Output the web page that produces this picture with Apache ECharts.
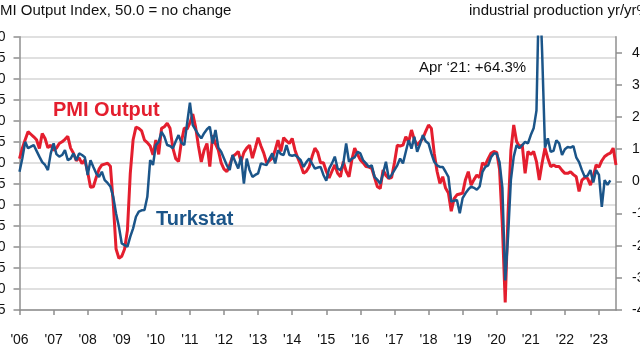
<!DOCTYPE html>
<html><head><meta charset="utf-8">
<script src="https://cdn.jsdelivr.net/npm/echarts@6/dist/echarts.min.js"></script>
<style>html,body{margin:0;padding:0;background:#fff}#c{width:640px;height:360px}</style>
</head><body><div id="c"></div>
<script>
const startYear = 2006;
const yearTickLabels = ["'06","'07","'08","'09","'10","'11","'12","'13","'14","'15","'16","'17","'18","'19","'20","'21","'22","'23"];
const rightTickValues = [-40,-30,-20,-10,0,10,20,30,40];

// PMI Output Index (sa, 50 = no change), monthly from Jan 2006
const pmiOutput = [
 51,53.5,55.5,57.4,56.8,56.2,55.5,53.4,57,55.8,53.6,54.2,
 53,53.5,54.6,55,55.6,56.3,53.5,52.3,50.5,51.2,49.8,50.7,
 47.8,44.2,44.3,46.5,48.5,49.5,49.7,49.9,49.2,40.5,29.5,27.3,
 27.8,29.5,34,47.5,55.5,58.5,58.2,57.6,55.4,54.8,54,51.9,
 55.4,52,58.2,58.6,59.4,58.2,53.5,51,50.3,55,58.3,58,
 59.5,61.6,58.5,54,50.2,53,54.6,49.1,56.6,54.5,53,50,
 48.5,47.9,49.5,51.5,52,52.7,50.3,52.5,53.5,54.2,51.1,53.5,
 56,54,52.3,50,50.5,51.1,53,55.4,52.7,56,55.2,54.6,
 55.8,53,51.1,49.5,47.5,48,49.1,51.5,53.5,52.5,50,50,
 48,46.4,48,49.5,47.5,46.7,50.3,48,46.7,50.7,53.5,52,
 50.7,50,49.1,49,48.7,46.5,44.3,43.9,48.3,47,46.3,46.5,
 50,54.2,54,54.2,56.2,55,57.8,55.5,54.2,55,55.8,57.5,
 59,58.2,52.3,48,45.1,46.7,44,42.8,38.5,41.5,42.4,42.6,
 42.8,46,47.9,44.7,46,47.1,46.5,50,49.5,51,52.3,52.7,
 52.5,48.5,35,16.8,38,53,59,55.1,53.9,54.2,47.5,52.7,
 52,52.7,50.3,45.9,50,53.5,51.1,49.1,49.5,49.1,49.1,48.2,
 47.5,47.5,47.9,47.2,46.7,43.2,45.9,46.5,46.3,44.7,46.7,49.5,
 49,50.5,51.5,52,52.3,53.5,49.5
];

// Turkstat industrial production, yr/yr %, monthly from Jan 2006
const turkstatIP = [
 3,7.2,12.3,10.3,10.8,11.3,9.5,7.7,6,5.1,3.5,8.7,
 11.8,8.5,7.7,8.2,9.7,6.6,7.1,8.7,6.6,8.7,8.2,7.5,
 2,6.6,4.5,2.5,1.4,3,0.4,-0.5,-1.6,-4.8,-10,-14.1,
 -19.3,-19.8,-20.3,-17.2,-14.6,-11,-9.4,-9,-8.9,-4.8,6.6,5.1,
 11.3,12.3,15.4,13.9,11.3,11,10.3,12.5,14.4,12,11.3,18,
 24.5,17.5,16,14.5,13.4,15,16.2,17,11.8,16,10.5,9.2,
 7.1,5,3.5,8.2,6,4,7.7,-0.7,7.1,3.5,1.4,2,
 2.5,5.6,5.3,5.1,7.1,8.7,5.6,9.7,8.5,8.2,11.3,8.2,
 8,8.2,7.5,6.6,4.5,6,7.1,5.5,4,4.3,4.5,2,
 0.2,4,5.6,7.7,4,3.5,5.6,11.8,6.1,7.1,7.5,9.2,
 8.7,6.5,5.6,4.5,5,1.4,0.5,-0.7,2.5,6.1,0.9,2,
 3.5,5,7.1,5.6,9.2,12.8,10.2,13.9,9.2,11.5,14.4,12.5,
 11.8,8.7,6.1,5,4.5,4.5,3,1.4,-6.3,-6,-5.8,-9.9,
 -5.2,-3.7,-2.5,-1.6,-2,-2.6,-1.6,3,4.5,5,7.5,8.7,
 8.7,6,-2,-30.8,-17,0.5,7.7,11.3,10.3,11.3,12.3,11.8,
 14.4,16.5,22,64.3,40,10.5,13.4,9.2,9.5,12.8,11.8,8.2,
 10,10.7,10.5,11,7.5,6,3.5,1.4,1.8,3.5,-0.3,3.5,
 2,-7.9,0.4,-1.1,0.3
];

const months = [];
for (let i = 0; i < pmiOutput.length; i++) {
  const y = startYear + Math.floor(i / 12);
  months.push(y + '-' + String(i % 12 + 1).padStart(2, '0'));
}

const FONT = '"Liberation Sans", Arial, sans-serif';
const RED = '#e41e2e';
const BLUE = '#1b5589';
const AXIS = '#8f8f8f';
const chart = echarts.init(document.getElementById('c'), null, {renderer: 'canvas'});
chart.setOption({
  animation: false,
  backgroundColor: '#ffffff',
  grid: {left: 19.5, right: 24, top: 36.7, bottom: 50, containLabel: false, outerBoundsMode: 'none'},
  xAxis: {
    type: 'category', data: months, boundaryGap: false,
    axisLine: {onZero: false, lineStyle: {color: AXIS, width: 1.5}},
    axisTick: {interval: (i) => i % 12 === 0, length: 5, lineStyle: {color: AXIS, width: 1.5}},
    axisLabel: {interval: (i) => i % 12 === 0, formatter: (v, i) => yearTickLabels[Math.floor(i / 12)],
      margin: 23, color: '#111', fontFamily: FONT, fontSize: 14},
    splitLine: {show: false}
  },
  yAxis: [{
    type: 'value', min: 15, max: 80, interval: 5, position: 'left',
    axisLine: {show: true, onZero: false, lineStyle: {color: AXIS, width: 1.5}},
    axisTick: {show: true, length: 6, lineStyle: {color: AXIS, width: 1.5}},
    axisLabel: {margin: 14, color: '#111', fontFamily: FONT, fontSize: 14, align: 'right'},
    splitLine: {show: true, lineStyle: {color: '#d6d6d6', width: 1.5}}
  }, {
    type: 'value', min: -40, max: 45, position: 'right',
    axisLine: {show: true, onZero: false, lineStyle: {color: AXIS, width: 1.5}},
    axisTick: {show: true, length: 6, customValues: rightTickValues, lineStyle: {color: AXIS, width: 1.5}},
    axisLabel: {margin: 16, customValues: rightTickValues, color: '#111', fontFamily: FONT, fontSize: 14, align: 'left'},
    splitLine: {show: false}
  }],
  series: [{
    name: 'PMI Output', type: 'line', data: pmiOutput, yAxisIndex: 0,
    showSymbol: false, symbol: 'none', z: 2, clip: true,
    lineStyle: {color: RED, width: 3}
  }, {
    name: 'Turkstat', type: 'line', data: turkstatIP, yAxisIndex: 1,
    showSymbol: false, symbol: 'none', z: 3, clip: true,
    lineStyle: {color: BLUE, width: 2.5}
  }],
  graphic: [
    {type: 'text', x: -17, y: -6, style: {text: 'Historical overview', font: 'bold 20px ' + FONT, fill: '#1f3a64', textVerticalAlign: 'middle'}},
    {type: 'text', x: -10, y: 11, style: {text: 'PMI Output Index, 50.0 = no change', font: '15px ' + FONT, fill: '#111', textVerticalAlign: 'middle'}},
    {type: 'text', x: 469, y: 11, style: {text: 'industrial production yr/yr%', font: '15px ' + FONT, fill: '#111', textVerticalAlign: 'middle'}},
    {type: 'text', x: 53, y: 110, style: {text: 'PMI Output', font: 'bold 20px ' + FONT, fill: RED, textVerticalAlign: 'middle'}},
    {type: 'text', x: 156, y: 219, style: {text: 'Turkstat', font: 'bold 20px ' + FONT, fill: BLUE, textVerticalAlign: 'middle'}},
    {type: 'text', x: 419, y: 68, style: {text: 'Apr \u201821: +64.3%', font: '15px ' + FONT, fill: '#111', textVerticalAlign: 'middle'}}
  ]
});
</script></body></html>
